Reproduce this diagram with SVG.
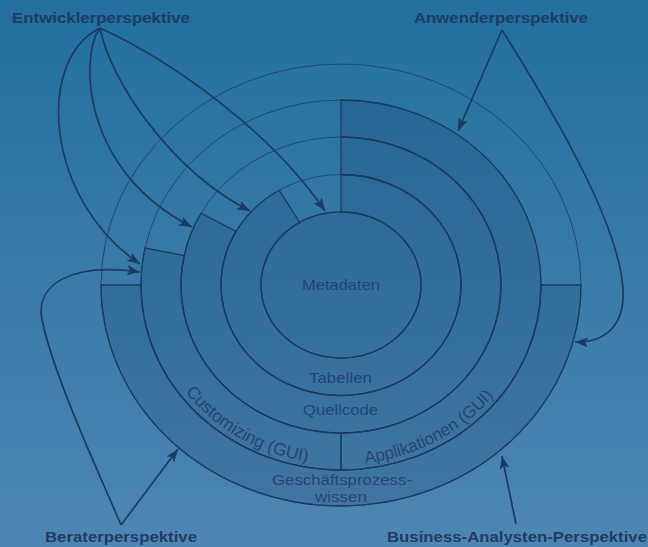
<svg xmlns="http://www.w3.org/2000/svg" width="648" height="547" viewBox="0 0 648 547">
<defs>
<linearGradient id="bg" x1="0" y1="0" x2="0" y2="1">
<stop offset="0" stop-color="#21709e"/>
<stop offset="1" stop-color="#4e86b3"/>
</linearGradient>
<marker id="ah" markerUnits="userSpaceOnUse" markerWidth="14" markerHeight="10" refX="13" refY="5" orient="auto">
<path d="M0,0 L13,5 L0,10 L3,5 Z" fill="#1e3a5f"/>
</marker>
<path id="pCust" d="M147,285 A194 179.5 0 0 0 341,464.5"/>
<path id="pAppl" d="M341,464.5 A194 179.5 0 0 0 535,285"/>
</defs>
<style>
.thin{fill:none;stroke:#1f426b;stroke-width:0.9}
.seg{fill:#1b3c66;fill-opacity:0.2;stroke:#1e3a5f;stroke-width:1.3}
.arr{fill:none;stroke:#1e3a5f;stroke-width:1.7;marker-end:url(#ah)}
.ttl{font-family:"Liberation Sans",Arial,sans-serif;font-weight:bold;font-size:15px;fill:#1f3c63}
.lbl{font-family:"Liberation Sans",Arial,sans-serif;font-size:15px;fill:#26456d}
.arc{font-family:"Liberation Sans",Arial,sans-serif;font-size:17.5px;fill:#26456d}
</style>
<rect width="648" height="547" fill="url(#bg)"/>
<g id="rings">
<ellipse class="thin" cx="341" cy="285" rx="240" ry="221"/>
<ellipse class="thin" cx="341" cy="285" rx="200" ry="185"/>
<ellipse class="thin" cx="341" cy="285" rx="160" ry="148"/>
<ellipse class="thin" cx="341" cy="285" rx="120" ry="110.5"/>
</g>
<g id="geschaeftsprozesswissen">
<path class="seg" d="M581,285 A240 221 0 0 1 101,285 L141,285 A200 185 0 0 0 541,285 Z"/>
<text class="lbl" x="272" y="485" textLength="140" lengthAdjust="spacingAndGlyphs">Geschäftsprozess-</text>
<text class="lbl" x="315" y="502" textLength="52" lengthAdjust="spacingAndGlyphs">wissen</text>
</g>
<g id="applikationen">
<path class="seg" d="M341,100 A200 185 0 0 1 341,470 L341,433 A160 148 0 0 0 341,137 Z"/>
<text class="arc" style="font-size:17px"><textPath href="#pAppl" startOffset="33.6%" text-anchor="middle">Applikationen (GUI)</textPath></text>
</g>
<g id="customizing">
<path class="seg" d="M341,470 A200 185 0 0 1 145,248.1 L184.2,255.5 A160 148 0 0 0 341,433 Z"/>
<text class="arc"><textPath href="#pCust" startOffset="64%" text-anchor="middle">Customizing (GUI)</textPath></text>
</g>
<g id="quellcode">
<path class="seg" d="M341,137 A160 148 0 1 1 201.1,213.2 L236.1,231.4 A120 110.5 0 1 0 341,174.5 Z"/>
<text class="lbl" x="303" y="415" textLength="75" lengthAdjust="spacingAndGlyphs">Quellcode</text>
</g>
<g id="tabellen">
<path class="seg" d="M341,174.5 A120 110.5 0 1 1 279.2,190.3 L299.8,222.4 A80 73 0 1 0 341,212 Z"/>
<text class="lbl" x="309" y="383" textLength="63" lengthAdjust="spacingAndGlyphs">Tabellen</text>
</g>
<g id="metadaten">
<ellipse class="seg" cx="341" cy="285" rx="80" ry="73"/>
<text class="lbl" x="302" y="290" textLength="78" lengthAdjust="spacingAndGlyphs">Metadaten</text>
</g>
<g id="connectors">
<path class="arr" d="M100,28 C35,60 45,200 140,264"/>
<path class="arr" d="M100,28 C80,55 80,170 192,227"/>
<path class="arr" d="M100,28 C110,80 170,170 250,211"/>
<path class="arr" d="M100,28 C170,60 270,130 325,211"/>
<path class="arr" d="M121,525 C100,475 55,380 42,320 C35,285 70,262 140,272"/>
<path class="arr" d="M121,525 L178,449"/>
<path class="arr" d="M502,30 L458,131"/>
<path class="arr" d="M502,30 C565,130 620,230 623,290 C625,325 605,343 575,342"/>
<path class="arr" d="M516,524 L502,456"/>
</g>
<g id="entwickler"><text class="ttl" x="12" y="23" textLength="178" lengthAdjust="spacingAndGlyphs">Entwicklerperspektive</text></g>
<g id="anwender"><text class="ttl" x="414" y="23" textLength="174" lengthAdjust="spacingAndGlyphs">Anwenderperspektive</text></g>
<g id="berater"><text class="ttl" x="45" y="542" textLength="152" lengthAdjust="spacingAndGlyphs">Beraterperspektive</text></g>
<g id="business"><text class="ttl" x="387" y="542" textLength="260" lengthAdjust="spacingAndGlyphs">Business-Analysten-Perspektive</text></g>
</svg>
